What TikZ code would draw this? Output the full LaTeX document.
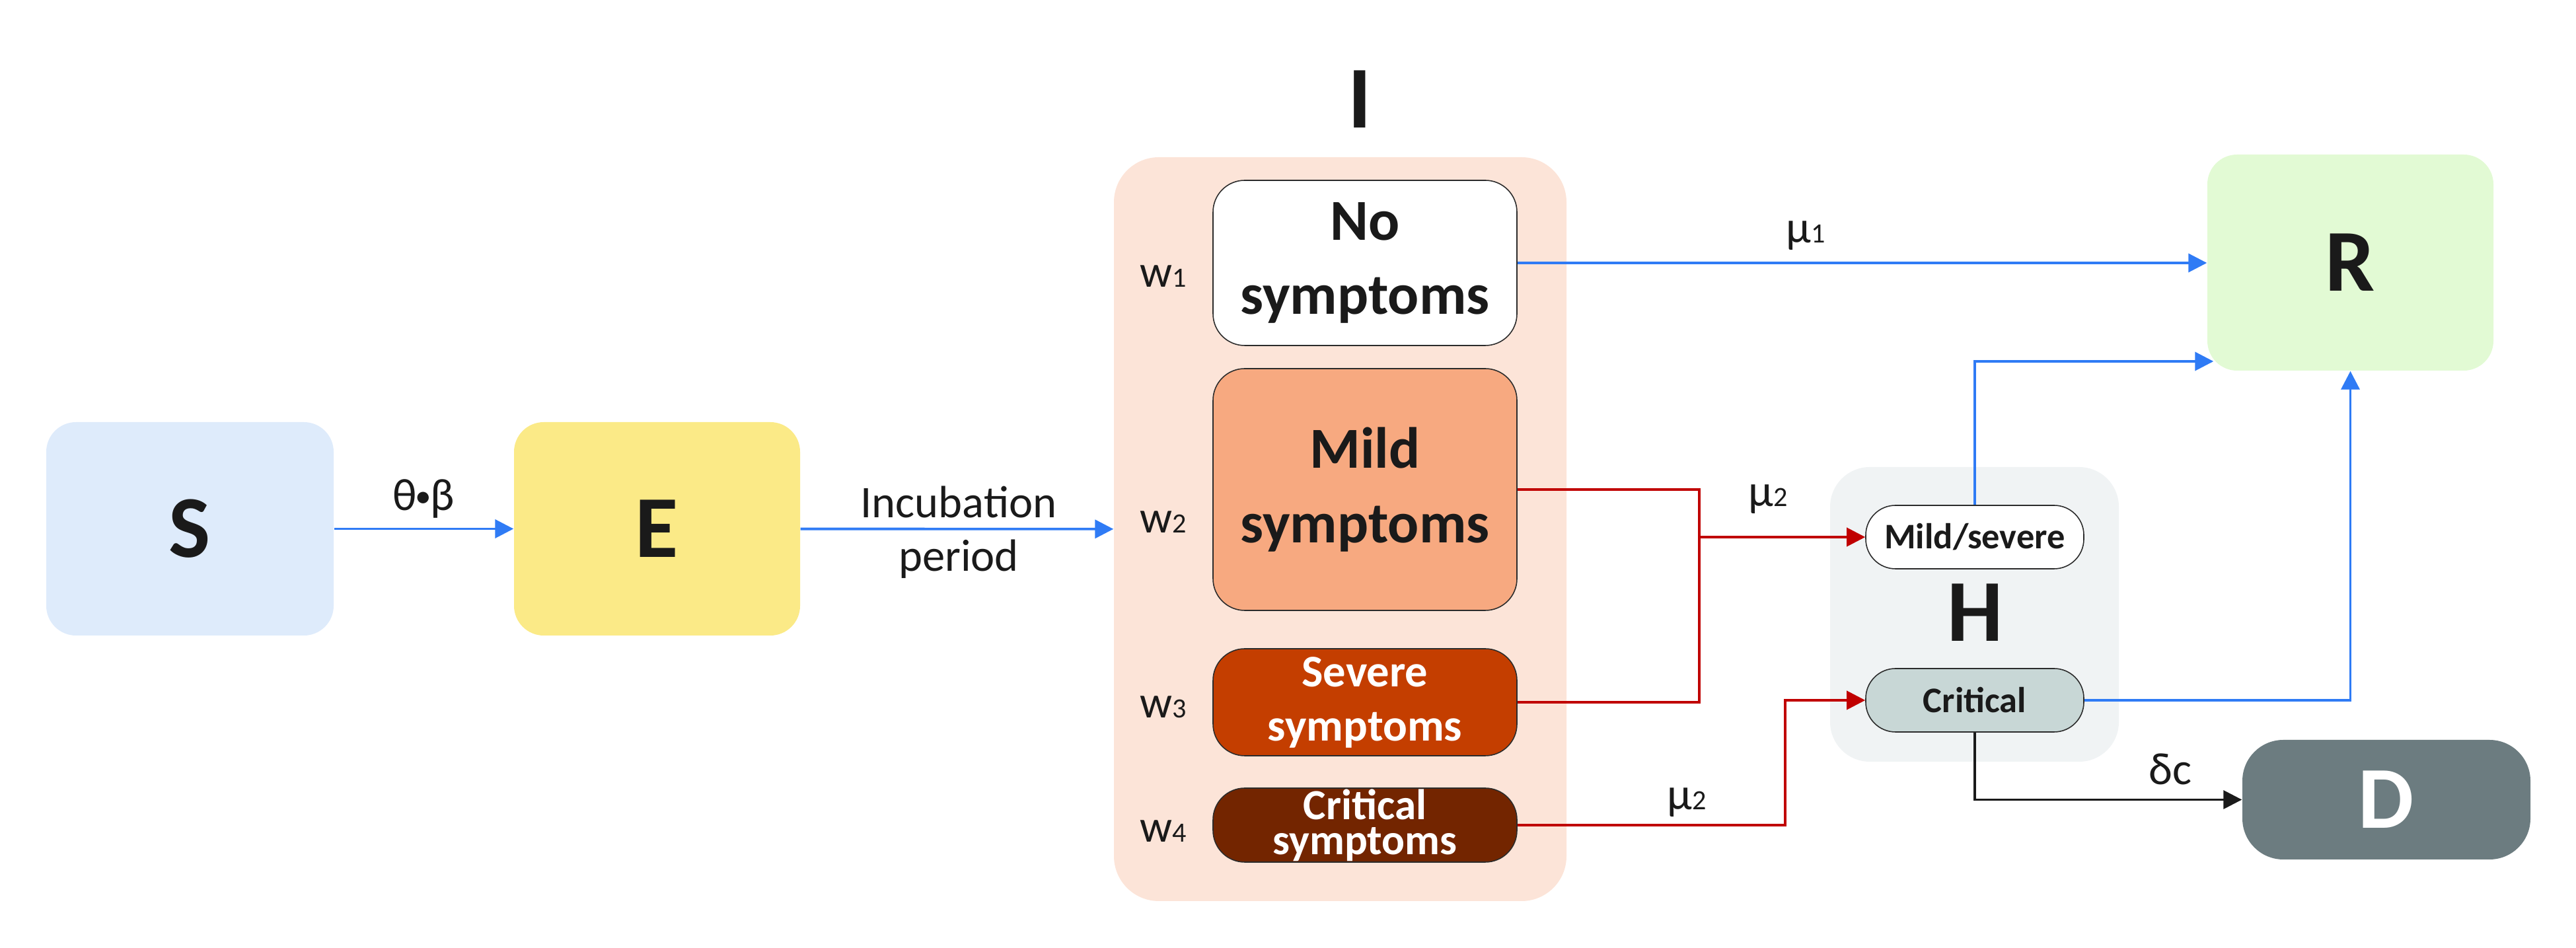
\documentclass[tikz,border=0pt]{standalone}
\usepackage{fontspec}
\setmainfont{Carlito}
\usepackage{xcolor}
\usetikzlibrary{arrows.meta}
\definecolor{scolor}{HTML}{DEEBFB}
\definecolor{ecolor}{HTML}{FBEA87}
\definecolor{rcolor}{HTML}{E2FAD4}
\definecolor{dcolor}{HTML}{6C7C80}
\definecolor{igroupcolor}{HTML}{FCE4D8}
\definecolor{hgroupcolor}{HTML}{F0F3F4}
\definecolor{mildcolor}{HTML}{F7A980}
\definecolor{severecolor}{HTML}{C43E00}
\definecolor{criticalcolor}{HTML}{732500}
\definecolor{hcritcolor}{HTML}{C8D7D6}
\definecolor{bordercolor}{HTML}{2B2B2B}
\definecolor{textcolor}{HTML}{1A1A1A}
\definecolor{flowblue}{HTML}{2F7BF5}
\definecolor{flowred}{HTML}{C00000}
\newcommand{\rateidx}[1]{{\fontsize{12}{12}\selectfont #1}}
\newcommand{\ratedot}{\kern-0.5pt{\fontsize{14}{14}\selectfont\raisebox{1.5pt}{•}}\kern-0.5pt}
\tikzset{
    compartment/.style={rounded corners=0.45cm, inner sep=0pt, text=textcolor,
        font=\fontsize{38}{40}\selectfont\bfseries},
    symbox/.style={draw=bordercolor, line width=0.45pt, rounded corners=0.48cm,
        inner sep=0pt, minimum width=4.6cm, align=center, text=textcolor},
    hospbox/.style={draw=bordercolor, line width=0.45pt, rounded corners=0.45cm,
        inner sep=0pt, minimum width=3.3cm, minimum height=0.96cm, text=textcolor,
        font=\fontsize{15.5}{17}\selectfont\bfseries},
    rate/.style={inner sep=0pt, text=textcolor, font=\fontsize{19.5}{23}\selectfont},
    flow/.style={line width=1.1pt, -{Triangle[length=0.28cm,width=0.28cm]}},
}

\begin{document}
\begin{tikzpicture}
    \useasboundingbox (0,0) rectangle (38.99,14.35);
    % groups
    \node [compartment, fill=igroupcolor, rounded corners=0.68cm, minimum width=6.85cm,
        minimum height=11.26cm] (I) at (20.285,6.34) {};
    \node [compartment] (Ilabel) at (20.58,12.85) {I};
    \node [compartment, fill=hgroupcolor, rounded corners=0.6cm, minimum width=4.37cm,
        minimum height=4.46cm] (H) at (29.885,5.05) {};
    \node [compartment] (Hlabel) at (29.90,5.08) {H};

    \node [compartment, fill=scolor, minimum width=4.35cm, minimum height=3.23cm] (S) at (2.875,6.345) {S};
    \node [compartment, fill=ecolor, minimum width=4.33cm, minimum height=3.23cm] (E) at (9.945,6.345) {E};
    \node [compartment, fill=rcolor, minimum width=4.33cm, minimum height=3.27cm] (R) at (35.575,10.375) {R};
    \node [compartment, fill=dcolor, text=white, rounded corners=0.62cm, minimum width=4.36cm,
        minimum height=1.81cm] (D) at (36.12,2.245) {D};

    \node [symbox, fill=white, minimum height=2.5cm,
        font=\fontsize{25}{32}\selectfont\bfseries] (nosym) at (20.66,10.37) {No\\symptoms};
    \node [symbox, fill=mildcolor, minimum height=3.66cm,
        font=\fontsize{25}{32}\selectfont\bfseries] (mildsym) at (20.66,6.94) {Mild\\symptoms};
    \node [symbox, fill=severecolor, text=white, minimum height=1.62cm,
        font=\fontsize{19.5}{23.3}\selectfont\bfseries] (severesym) at (20.66,3.72) {Severe\\symptoms};
    \node [symbox, fill=criticalcolor, text=white, minimum height=1.12cm,
        font=\fontsize{18.5}{15}\selectfont\bfseries] (criticalsym) at (20.66,1.86) {Critical\\symptoms};

    \node [hospbox, fill=white] (mildsev) at (29.89,6.22) {Mild/severe};
    \node [hospbox, fill=hcritcolor] (critical) at (29.89,3.75) {Critical};

    \node [rate, anchor=base] (w1) at (17.61,10.00) {w\rateidx{1}};
    \node [rate, anchor=base] (w2) at (17.61,6.28) {w\rateidx{2}};
    \node [rate, anchor=base] (w3) at (17.61,3.48) {w\rateidx{3}};
    \node [rate, anchor=base] (w4) at (17.61,1.60) {w\rateidx{4}};

    % flows
    \coordinate (junction) at (25.72,6.22);
    \coordinate (critbend) at (27.02,1.86);
    \coordinate (rcorner) at (29.89,8.88);

    \draw [flow, flowblue] (S) -- (E);
    \draw [flow, flowblue] (E) -- (I);
    \draw [flow, flowblue] (nosym.east) -- (nosym.east -| R.west);
    \draw [line width=1.1pt, flowred] (mildsym.east) -| (junction |- severesym.east) -- (severesym.east);
    \draw [flow, flowred] (junction) -- (mildsev.west);
    \draw [flow, flowred] (criticalsym.east) -- (critbend) |- (critical.west);
    \draw [flow, flowblue] (mildsev.north) -- (rcorner) -- ([xshift=0.1cm]rcorner -| R.west);
    \draw [flow, flowblue] (critical.east) -| (R.south);
    \draw [flow, textcolor, line width=1pt] (critical.south) |- (D.west);

    \node [rate, anchor=base] (thetabeta) at (6.41,6.62) {θ\ratedot β};
    \node [rate, align=center] (incubation) at (14.51,6.29) {Incubation\\period};
    \node [rate, anchor=base] (mu1) at (27.33,10.67) {μ\rateidx{1}};
    \node [rate, anchor=base] (mu2mild) at (26.76,6.68) {μ\rateidx{2}};
    \node [rate, anchor=base] (mu2crit) at (25.53,2.09) {μ\rateidx{2}};
    \node [rate, anchor=base] (deltac) at (32.85,2.47) {δc};
\end{tikzpicture}
\end{document}
